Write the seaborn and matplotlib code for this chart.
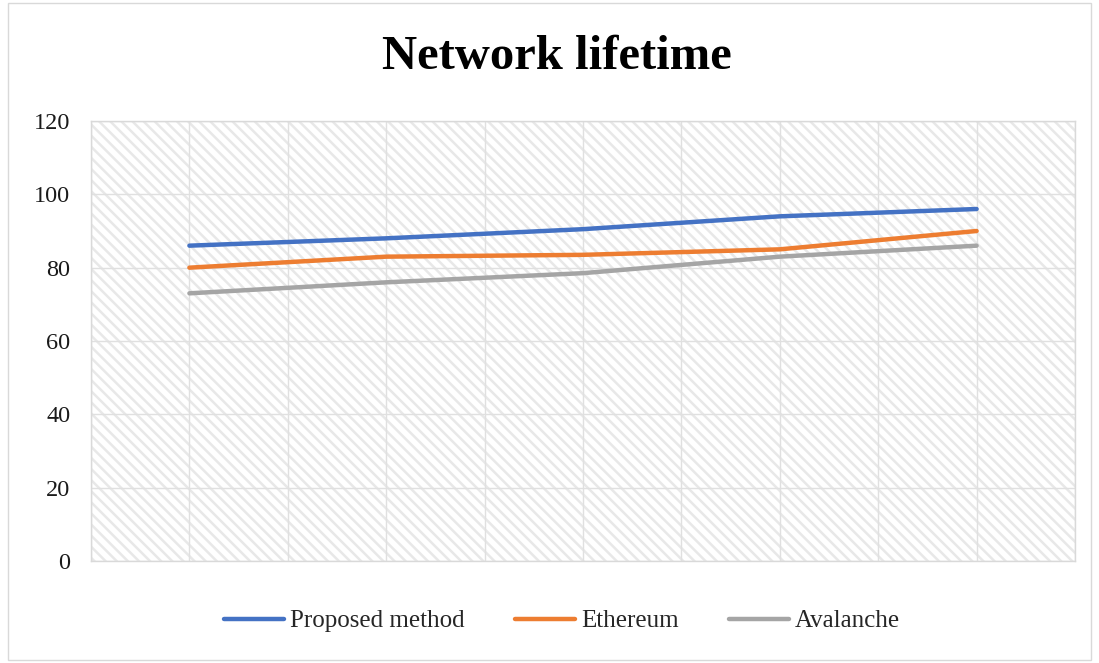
import matplotlib
matplotlib.use("Agg")
import matplotlib.pyplot as plt
from matplotlib.patches import Rectangle
import numpy as np
import pandas as pd
import seaborn as sns

# Series values per test round
rounds = [1, 2, 3, 4, 5]
proposed = [86, 88, 90.5, 94, 96]
ethereum = [80, 83, 83.5, 85, 90]
avalanche = [73, 76, 78.5, 83, 86]
series_names = ["Proposed method", "Ethereum", "Avalanche"]
series_colors = ["#4472C4", "#ED7D31", "#A5A5A5"]
y_ticks = [0, 20, 40, 60, 80, 100, 120]

sns.set_theme(style="white")
plt.rcParams["font.family"] = ["Liberation Serif", "DejaVu Serif"]
plt.rcParams["hatch.linewidth"] = 1.8

df = pd.DataFrame({
    "round": rounds * 3,
    "value": proposed + ethereum + avalanche,
    "series": sum([[n] * len(rounds) for n in series_names], []),
})
df["pos"] = df["round"] - 1

fig = plt.figure(figsize=(10.99, 6.63), dpi=100)
ax = fig.add_axes([91 / 1099, 1 - 561 / 663, (1075 - 91) / 1099, (561 - 121) / 663])

# hatched plot-area background
ax.patch.set_facecolor("white")
ax.patch.set_edgecolor("#e8e8e8")
ax.patch.set_hatch("\\\\\\")

sns.lineplot(data=df, x="pos", y="value", hue="series", hue_order=series_names,
             palette=series_colors, linewidth=3.2, ax=ax, legend=True,
             solid_capstyle="round")

ax.set_xlim(-0.5, len(rounds) - 0.5)
ax.set_ylim(0, 120)
ax.set_yticks(y_ticks)
ax.set_yticklabels([str(t) for t in y_ticks], fontsize=17.5, color="#1a1a1a")
ax.set_xticks(np.arange(-0.5, len(rounds), 0.5))
ax.set_xticklabels([])
ax.tick_params(axis="both", length=0)
ax.tick_params(axis="y", pad=15)
ax.set_xlabel("")
ax.set_ylabel("")
ax.set_axisbelow(True)
ax.grid(True, color="#e0e0e0", linewidth=1.0)
for s in ax.spines.values():
    s.set_color("#d9d9d9")
    s.set_linewidth(1.0)

fig.text(557 / 1099, 1 - 57 / 663, "Network lifetime", ha="center", va="center",
         fontsize=35, fontweight="bold", color="black")

handles, labels = ax.get_legend_handles_labels()
ax.legend(handles, labels, loc="center", bbox_to_anchor=(562 / 1099, 1 - 621 / 663),
          bbox_transform=fig.transFigure, ncol=3, frameon=False, fontsize=18,
          handlelength=2.4, handletextpad=0.25, columnspacing=2.0)

# chart-area border
fig.patches.append(Rectangle((8 / 1099, 3 / 663), 1 - 16 / 1099, 1 - 6 / 663,
                             transform=fig.transFigure, fill=False,
                             edgecolor="#d9d9d9", linewidth=1.0))

fig.savefig("out.png", dpi=100)
